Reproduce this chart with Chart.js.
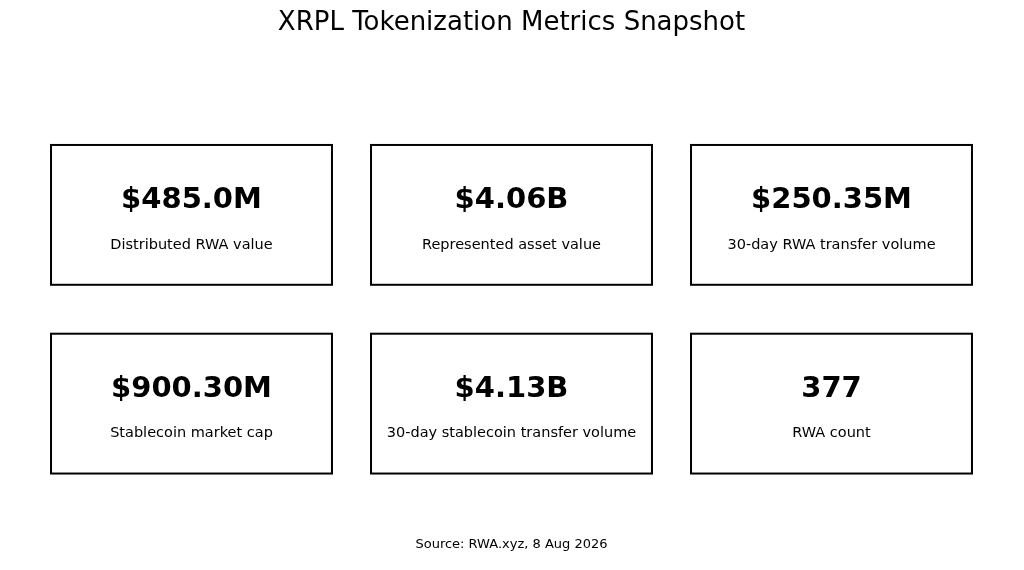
<!DOCTYPE html>
<html>
<head>
<meta charset="utf-8">
<script src="https://cdn.jsdelivr.net/npm/chart.js@4.4.1/dist/chart.umd.min.js"></script>
<style>
  html, body { margin: 0; padding: 0; background: #fff; }
  #wrap { width: 1024px; height: 570px; }
</style>
</head>
<body>
<div id="wrap"><canvas id="kpiChart"></canvas></div>
<script>
// metric cards, read left to right, top to bottom
const metricValues = ['$485.0M', '$4.06B', '$250.35M', '$900.30M', '$4.13B', '377'];
const metricLabels = [
    'Distributed RWA value',
    'Represented asset value',
    '30-day RWA transfer volume',
    'Stablecoin market cap',
    '30-day stablecoin transfer volume',
    'RWA count'
];
const gridCols = 3;

const FONT = "'DejaVu Sans', sans-serif";

// one point per card, in the middle of its grid cell
const cardPoints = metricValues.map((v, i) => ({
    x: (i % gridCols) + 0.5,
    y: Math.floor(i / gridCols) + 0.5
}));

// draws a bordered card with value + caption around each point
const cardPlugin = {
    id: 'cards',
    afterDatasetsDraw(chart) {
        const ctx = chart.ctx;
        const xs = chart.scales.x;
        const ys = chart.scales.y;
        const halfW = 0.439, halfH = 0.3704;
        ctx.save();
        cardPoints.forEach((p, i) => {
            const left = xs.getPixelForValue(p.x - halfW);
            const right = xs.getPixelForValue(p.x + halfW);
            const top = ys.getPixelForValue(p.y - halfH);
            const bottom = ys.getPixelForValue(p.y + halfH);
            const cx = xs.getPixelForValue(p.x);
            const cy = ys.getPixelForValue(p.y);

            ctx.strokeStyle = '#000';
            ctx.lineWidth = 2;
            ctx.strokeRect(left, top, right - left, bottom - top);

            ctx.fillStyle = '#000';
            ctx.textAlign = 'center';
            ctx.textBaseline = 'middle';
            ctx.font = 'bold 29px ' + FONT;
            ctx.fillText(metricValues[i], cx, cy - 14);
            ctx.font = '14.5px ' + FONT;
            ctx.fillText(metricLabels[i], cx, cy + 30);
        });
        ctx.restore();
    }
};

const ctx = document.getElementById('kpiChart').getContext('2d');
const kpiChart = new Chart(ctx, {
    type: 'scatter',
    data: {
        datasets: [{
            label: 'Metrics',
            data: cardPoints,
            pointRadius: 0,
            pointHoverRadius: 0
        }]
    },
    options: {
        responsive: true,
        maintainAspectRatio: false,
        animation: false,
        events: [],
        layout: { padding: { left: 31.5, right: 32.5, top: 0, bottom: 0 } },
        plugins: {
            legend: { display: false },
            tooltip: { enabled: false },
            title: {
                display: true,
                text: 'XRPL Tokenization Metrics Snapshot',
                color: '#000',
                font: { family: FONT, size: 26, weight: 'normal', lineHeight: 1.2 },
                padding: { top: 7.4, bottom: 81.9 }
            },
            subtitle: {
                display: true,
                position: 'bottom',
                text: 'Source: RWA.xyz, 8 Aug 2026',
                color: '#000',
                font: { family: FONT, size: 13, weight: 'normal', lineHeight: 1.2 },
                padding: { top: 39.2, bottom: 17.2 }
            }
        },
        scales: {
            x: { type: 'linear', min: 0, max: 3, display: false },
            y: { type: 'linear', min: 0, max: 2, reverse: true, display: false }
        }
    },
    plugins: [cardPlugin]
});
</script>
</body>
</html>
